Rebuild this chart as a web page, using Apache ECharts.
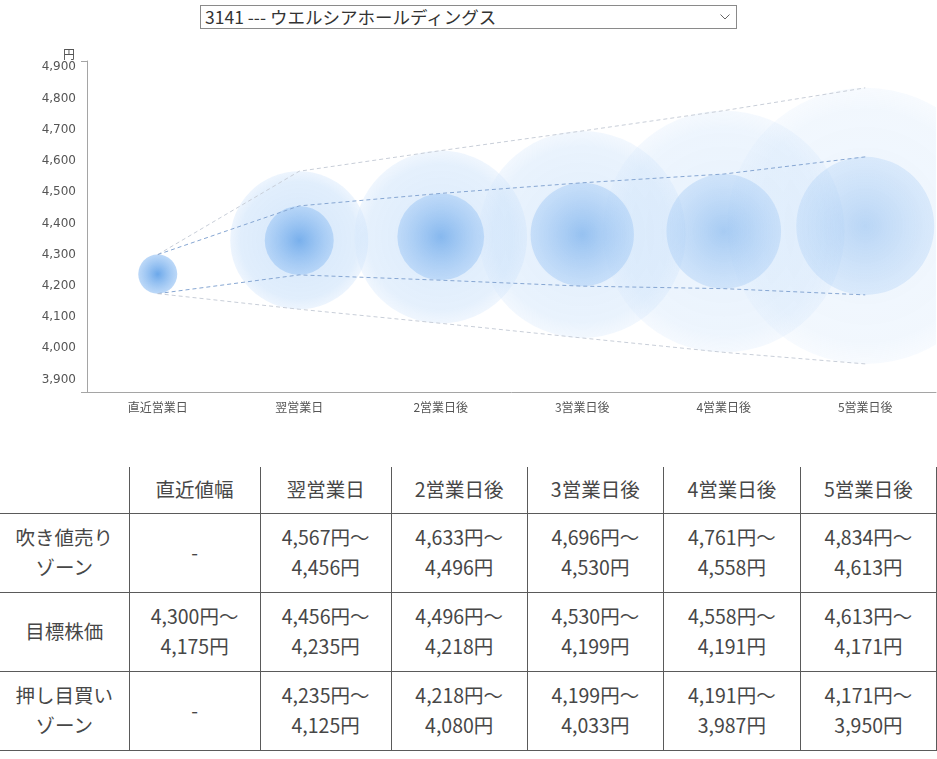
<!DOCTYPE html>
<html>
<head>
<meta charset="utf-8">
<script src="https://cdn.jsdelivr.net/npm/echarts@6/dist/echarts.min.js"></script>
<style>
    body { margin: 0; background: #fff; font-family: "Noto Sans CJK JP", sans-serif; }
    #stock {
        position: absolute; left: 200px; top: 5px; width: 537px; height: 24px;
        border: 1px solid #8a8a8a; background: #fff url("data:image/svg+xml;utf8,<svg xmlns='http://www.w3.org/2000/svg' width='10' height='6'><path d='M0.5 0.5 L5 5 L9.5 0.5' fill='none' stroke='%23666' stroke-width='1'/></svg>") no-repeat right 6px center;
        -webkit-appearance: none; appearance: none; border-radius: 0;
        font-family: "Noto Sans CJK JP", sans-serif; font-size: 17.5px; color: #333;
        padding: 0 0 0 4px; box-sizing: border-box; line-height: 22px;
    }
    #histogram { position: absolute; left: 0; top: 0; width: 937px; height: 440px; }
    #yosoku {
        position: absolute; left: 0; top: 467px; width: 937px;
        border-collapse: collapse; table-layout: fixed;
        color: #474747; font-size: 19.5px; text-align: center;
    }
    #yosoku th, #yosoku td {
        border-right: 1px solid #5a5a5a; border-bottom: 1px solid #5a5a5a;
        font-weight: normal; line-height: 30px; padding: 0;
    }
    #yosoku thead th { height: 44px; padding-bottom: 2px; }
    #yosoku tbody td, #yosoku tbody th { height: 75px; padding-bottom: 3px; }
</style>
</head>
<body>
<select id="stock"><option>3141 --- ウエルシアホールディングス</option></select>
<div id="histogram"></div>
<table id="yosoku">
    <colgroup>
        <col style="width:129px"><col style="width:131px"><col style="width:131px">
        <col style="width:136px"><col style="width:136px"><col style="width:137px"><col style="width:136px">
    </colgroup>
    <thead><tr id="head"></tr></thead>
    <tbody id="body"></tbody>
</table>
<script>
    // 予測データ
    var categories = ['直近営業日', '翌営業日', '2営業日後', '3営業日後', '4営業日後', '5営業日後'];
    var sellHigh = [null, 4567, 4633, 4696, 4761, 4834];   // 吹き値売りゾーン 上限
    var targetHigh = [4300, 4456, 4496, 4530, 4558, 4613]; // 目標株価 上限
    var targetLow = [4175, 4235, 4218, 4199, 4191, 4171];  // 目標株価 下限
    var buyLow = [null, 4125, 4080, 4033, 3987, 3950];     // 押し目買いゾーン 下限
    var yTicks = [3900, 4000, 4100, 4200, 4300, 4400, 4500, 4600, 4700, 4800, 4900];
    var rowNames = ['吹き値売り<br>ゾーン', '目標株価', '押し目買い<br>ゾーン'];
    var headNames = ['', '直近値幅', '翌営業日', '2営業日後', '3営業日後', '4営業日後', '5営業日後'];

    function yen(v) { return v.toLocaleString('ja-JP') + '円'; }
    function range(hi, lo, i) {
        if (hi[i] == null || lo[i] == null) return '-';
        return yen(hi[i]) + '～<br>' + yen(lo[i]);
    }

    // 表
    document.getElementById('head').innerHTML = headNames.map(function (h) { return '<th>' + h + '</th>'; }).join('');
    var pairs = [[sellHigh, targetHigh], [targetHigh, targetLow], [targetLow, buyLow]];
    var rows = '';
    for (var r = 0; r < 3; r++) {
        rows += '<tr><th>' + rowNames[r] + '</th>';
        for (var i = 0; i < categories.length; i++) {
            rows += '<td>' + range(pairs[r][0], pairs[r][1], i) + '</td>';
        }
        rows += '</tr>';
    }
    document.getElementById('body').innerHTML = rows;

    // バブル用データ [index, 上限, 下限]
    var outer = [], inner = [];
    for (var i = 0; i < categories.length; i++) {
        if (sellHigh[i] != null) outer.push([i, sellHigh[i], buyLow[i]]);
        inner.push([i, targetHigh[i], targetLow[i]]);
    }
    var lineTop = sellHigh.map(function (v, i) { return v == null ? targetHigh[i] : v; });
    var lineBottom = buyLow.map(function (v, i) { return v == null ? targetLow[i] : v; });

    // 先の日ほど薄く
    function bubble(stops, base, fade) {
        return function (params, api) {
            var idx = api.value(0);
            var p1 = api.coord([idx, api.value(1)]);
            var p2 = api.coord([idx, api.value(2)]);
            return {
                type: 'circle',
                shape: { cx: p1[0], cy: (p1[1] + p2[1]) / 2, r: Math.abs(p2[1] - p1[1]) / 2 },
                style: {
                    fill: { type: 'radial', x: 0.5, y: 0.5, r: 0.5, colorStops: stops },
                    opacity: Math.min(1, base - idx * fade)
                }
            };
        };
    }

    var histogram = echarts.init(document.getElementById('histogram'));
    histogram.setOption({
        animation: false,
        grid: { left: 87, right: 1, top: 61, height: 331 },
        xAxis: {
            type: 'category',
            data: categories,
            axisLine: { lineStyle: { color: '#a5a5a5' } },
            axisTick: { length: 6, interval: function (index) { return index === 0; }, lineStyle: { color: '#a5a5a5' } },
            axisLabel: { color: '#555', fontSize: 12, margin: 9, fontFamily: 'Noto Sans CJK JP' }
        },
        yAxis: {
            type: 'value',
            min: 3860,
            max: 4920,
            interval: 20,
            name: '円',
            nameGap: 1,
            nameTextStyle: { color: '#555', fontSize: 12, align: 'right', padding: [0, 12, 0, 0], fontFamily: 'Noto Sans CJK JP' },
            axisLine: { show: true, lineStyle: { color: '#a5a5a5' } },
            axisTick: { show: true, length: 6, customValues: [3860, 4920], lineStyle: { color: '#a5a5a5' } },
            axisLabel: {
                customValues: yTicks,
                color: '#555', fontSize: 12, margin: 11, fontFamily: 'DejaVu Sans',
                formatter: function (v) { return v.toLocaleString('en-US'); }
            },
            splitLine: { show: false }
        },
        series: [
            {
                type: 'custom', data: outer, clip: true,
                renderItem: bubble([
                    { offset: 0, color: 'rgba(185,215,248,0.6)' },
                    { offset: 0.85, color: 'rgba(200,224,250,0.55)' },
                    { offset: 1, color: 'rgba(215,232,252,0.45)' }
                ], 1.14, 0.14)
            },
            {
                type: 'custom', data: inner, clip: true,
                renderItem: bubble([
                    { offset: 0, color: 'rgba(108,168,234,1)' },
                    { offset: 1, color: 'rgba(160,200,245,0.7)' }
                ], 1, 0.12)
            },
            { type: 'line', data: lineTop, symbol: 'none', lineStyle: { color: '#c8ced8', width: 1, type: [4, 3] } },
            { type: 'line', data: targetHigh, symbol: 'none', lineStyle: { color: '#86a6d2', width: 1, type: [4, 3] } },
            { type: 'line', data: targetLow, symbol: 'none', lineStyle: { color: '#86a6d2', width: 1, type: [4, 3] } },
            { type: 'line', data: lineBottom, symbol: 'none', lineStyle: { color: '#c8ced8', width: 1, type: [4, 3] } }
        ]
    });
</script>
</body>
</html>
